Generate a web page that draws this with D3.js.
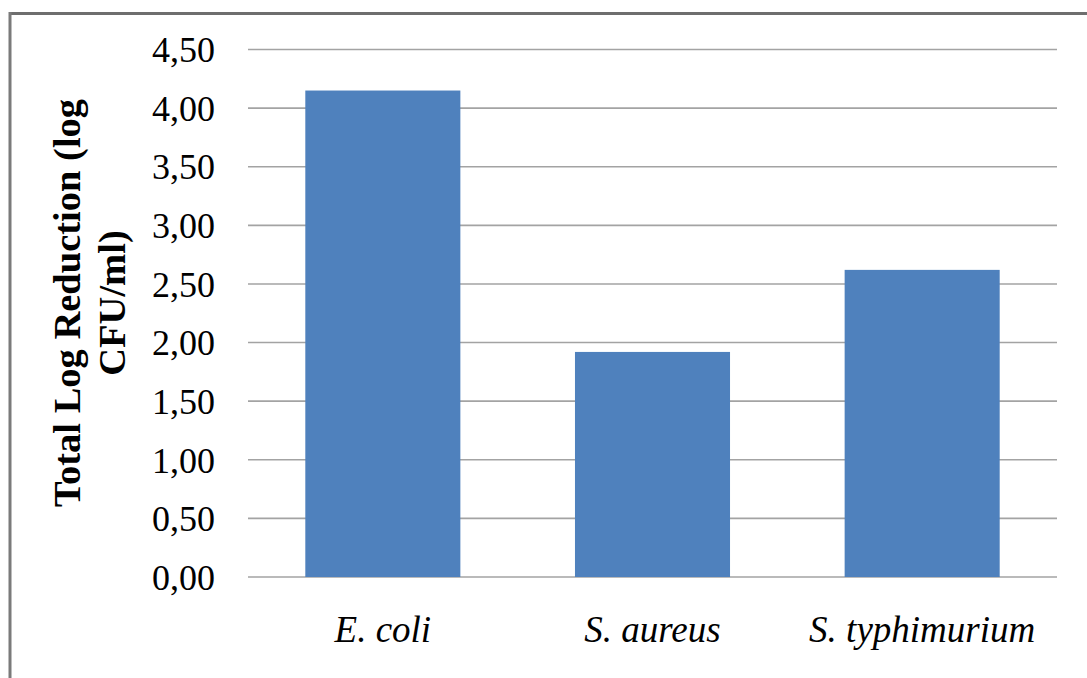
<!DOCTYPE html>
<html>
<head>
<meta charset="utf-8">
<script src="https://cdn.jsdelivr.net/npm/d3@7/dist/d3.min.js"></script>
<style>
  html, body { margin: 0; padding: 0; background: #fff; }
  svg { display: block; }
</style>
</head>
<body>
<script>
const categories = ["E. coli", "S. aureus", "S. typhimurium"];
const values = [4.15, 1.92, 2.62];
const tickValues = [0, 0.5, 1, 1.5, 2, 2.5, 3, 3.5, 4, 4.5];
const tickLabels = ["0,00", "0,50", "1,00", "1,50", "2,00", "2,50", "3,00", "3,50", "4,00", "4,50"];
const yTitleLines = ["Total Log Reduction (log", "CFU/ml)"];

(function () {
const W = 1087, H = 678;
const svg = d3.select("body").append("svg").attr("width", W).attr("height", H);

// frame
svg.append("rect").attr("x", 0).attr("y", 0).attr("width", W).attr("height", H).attr("fill", "#fff");
svg.append("line").attr("x1", 10).attr("x2", W).attr("y1", 13.5).attr("y2", 13.5)
  .attr("stroke", "#6e6e6e").attr("stroke-width", 3);
svg.append("line").attr("x1", 10).attr("x2", 10).attr("y1", 12).attr("y2", H)
  .attr("stroke", "#7a7a7a").attr("stroke-width", 3);

const pLeft = 248, pRight = 1057, pTop = 49.5, pBottom = 577;
const x = d3.scaleBand().domain(categories).range([pLeft, pRight]).paddingInner(0.425).paddingOuter(0.2125);
const y = d3.scaleLinear().domain([0, 4.5]).range([pBottom, pTop]);

// gridlines
svg.append("g").selectAll("line").data(tickValues).join("line")
  .attr("x1", pLeft).attr("x2", pRight)
  .attr("y1", d => y(d)).attr("y2", d => y(d))
  .attr("stroke", "#a3a3a3").attr("stroke-width", 1.6);

// y axis labels via d3 axis
const yAxis = d3.axisLeft(y).tickValues(tickValues)
  .tickFormat((d, i) => tickLabels[i]).tickSize(0).tickPadding(0);
const ya = svg.append("g").attr("transform", `translate(${pLeft - 33},0)`).call(yAxis);
ya.select(".domain").remove();
ya.selectAll("text")
  .attr("font-family", "'Liberation Serif', 'Times New Roman', serif")
  .attr("font-size", 36).attr("fill", "#000").attr("dy", "0.34em");

// bars
svg.append("g").selectAll("rect").data(values).join("rect")
  .attr("x", (d, i) => x(categories[i]))
  .attr("width", x.bandwidth())
  .attr("y", d => y(d))
  .attr("height", d => y(0) - y(d))
  .attr("fill", "#4f81bd");

// x labels
const xAxis = d3.axisBottom(x).tickSize(0).tickPadding(0);
const xa = svg.append("g").attr("transform", `translate(0,${pBottom})`).call(xAxis);
xa.select(".domain").remove();
xa.selectAll("text")
  .attr("font-family", "'Liberation Serif', 'Times New Roman', serif")
  .attr("font-style", "italic")
  .attr("font-size", 37).attr("fill", "#000")
  .attr("y", 65).attr("dy", 0);

// y title
const yt = svg.append("text")
  .attr("transform", "translate(80,303) rotate(-90)")
  .attr("text-anchor", "middle")
  .attr("font-family", "'Liberation Serif', 'Times New Roman', serif")
  .attr("font-weight", "bold").attr("font-size", 38.5).attr("fill", "#000");
yt.selectAll("tspan").data(yTitleLines).join("tspan")
  .attr("x", 0).attr("dy", (d, i) => i === 0 ? 0 : 45)
  .text(d => d);
})();
</script>
</body>
</html>
